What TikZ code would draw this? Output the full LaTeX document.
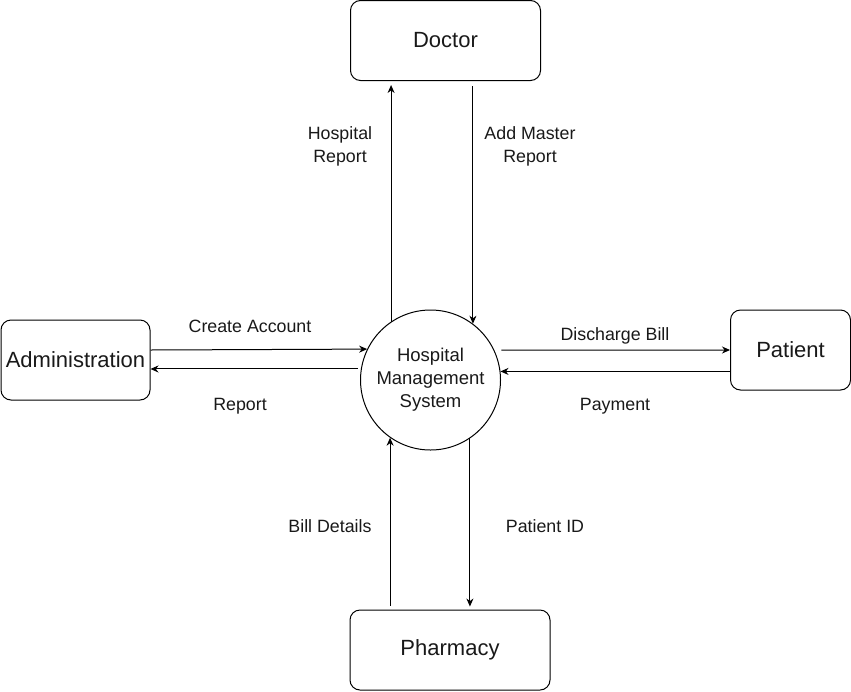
\documentclass[tikz,border=0pt]{standalone}
\usepackage{fontspec}
\setmainfont{Liberation Sans}
\usetikzlibrary{arrows.meta,calc}
\definecolor{linecolorc}{HTML}{000000}
\colorlet{linecolor}{linecolorc}
\colorlet{textcolor}{black!90}
\tikzstyle{entity} = [
    draw=linecolor,
    rectangle,
    rounded corners=10pt,
    minimum height=80pt,
    inner sep=0pt,
    text=textcolor,
    font=\fontsize{22}{26}\selectfont
    ]
\tikzstyle{process} = [
    draw=linecolor,
    circle,
    minimum size=140pt,
    inner sep=0pt,
    align=center,
    text=textcolor,
    font=\fontsize{18.5}{23}\selectfont
    ]
\tikzstyle{flow} = [
    draw=linecolor,
    -{Stealth[length=8pt,width=7pt]}
    ]
\tikzstyle{flowlabel} = [
    align=center,
    inner sep=0pt,
    text=textcolor,
    font=\fontsize{17.8}{23}\selectfont
    ]

\begin{document}
\begin{tikzpicture}[x=1pt, y=-1pt, line width=1pt]
\useasboundingbox (0,0) rectangle (851,691);

% external entities and the process
\node[entity, minimum width=190pt] (doctor) at (445.5,40.5) {Doctor};
\node[entity, minimum width=149pt] (admin) at (75.5,360) {Administration};
\node[entity, minimum width=120pt] (patient) at (790.5,350) {Patient};
\node[entity, minimum width=200pt] (pharmacy) at (450,650) {Pharmacy};
\node[process] (hms) at (430.5,380) {Hospital\\Management\\System};

% data flows
\draw[flow, shorten >=4pt] (hms.124.8) -- (hms.124.8 |- doctor.south);
\draw[flow, shorten <=5pt] (hms.53.1 |- doctor.south) -- (hms.53.1);
\draw[flow] ($(admin.east)+(0,-10)$) -- (hms.154.6);
\draw[flow, shorten <=3pt] (hms.171.8) -- (hms.171.8 -| admin.east);
\draw[flow, shorten <=7pt] (hms.25.4) -- (patient.west);
\draw[flow] (patient.west |- hms.7.4) -- (hms.7.4);
\draw[flow, shorten <=4pt] (hms.235.2 |- pharmacy.north) -- (hms.235.2);
\draw[flow, shorten >=3pt] (hms.304.4) -- (hms.304.4 |- pharmacy.north);

% flow labels
\node[flowlabel] (hospreport) at (340,146.5) {Hospital\\Report};
\node[flowlabel] (masterreport) at (530,146.5) {Add Master\\Report};
\node[flowlabel] (createacc) at (250,326) {Create Account};
\node[flowlabel] (report) at (240,406) {Report};
\node[flowlabel] (dischargebill) at (615,336) {Discharge Bill};
\node[flowlabel] (payment) at (615,406) {Payment};
\node[flowlabel] (billdetails) at (330,526) {Bill Details};
\node[flowlabel] (patientid) at (545,526) {Patient ID};
\end{tikzpicture}
\end{document}
